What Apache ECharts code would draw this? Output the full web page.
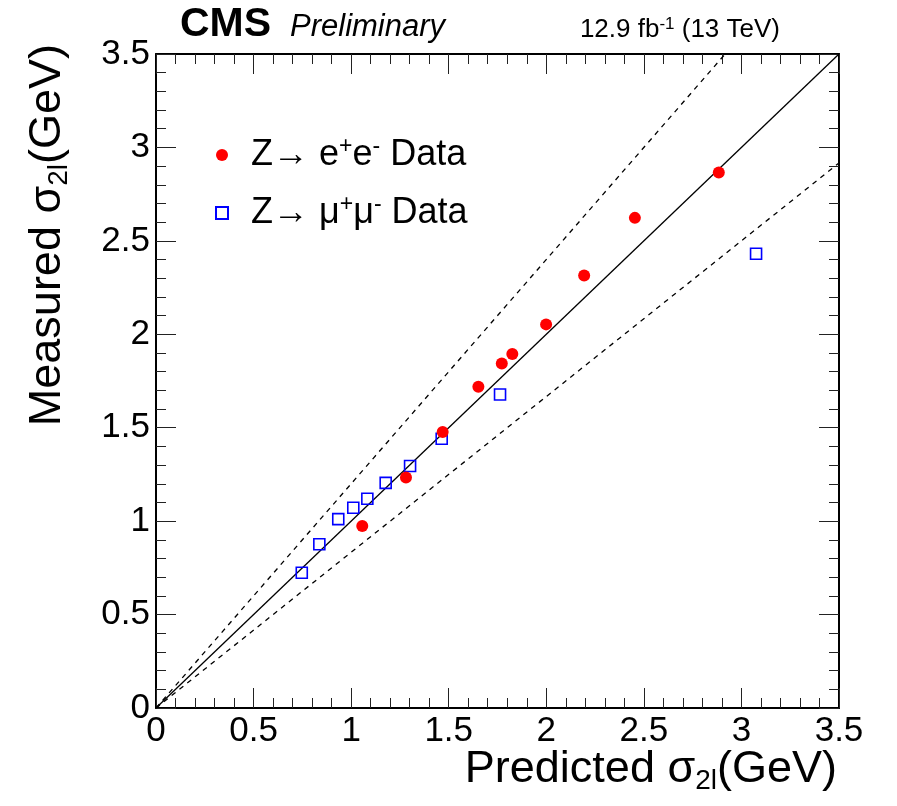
<!DOCTYPE html>
<html>
<head>
<meta charset="utf-8">
<script src="https://cdn.jsdelivr.net/npm/echarts@6/dist/echarts.min.js"></script>
<style>html,body{margin:0;padding:0;background:#fff}#c{width:897px;height:806px}</style>
</head>
<body>
<div id="c"></div>
<script>
// Z -> e+e- data (predicted, measured)
var eeX = [1.057, 1.281, 1.469, 1.652, 1.772, 1.826, 1.999, 2.194, 2.454, 2.884];
var eeY = [0.974, 1.234, 1.477, 1.719, 1.844, 1.894, 2.053, 2.315, 2.623, 2.866];
// Z -> mu+mu- data
var mmX = [0.747, 0.837, 0.934, 1.011, 1.083, 1.177, 1.302, 1.464, 1.763, 3.075];
var mmY = [0.724, 0.876, 1.011, 1.072, 1.120, 1.205, 1.295, 1.441, 1.678, 2.431];
// reference lines (endpoints)
var diagX = [0, 3.5], diagY = [0, 3.5];
var upperX = [0, 2.9167], upperY = [0, 3.5];
var lowerX = [0, 3.5], lowerY = [0, 2.9167];
var axisTicks = [0, 0.5, 1, 1.5, 2, 2.5, 3, 3.5];

function zip(a, b) { return a.map(function (v, i) { return [v, b[i]]; }); }

var FONT = "'Liberation Sans', Arial, Helvetica, sans-serif";
var chart = echarts.init(document.getElementById('c'), null, { renderer: 'canvas' });

function axisCommon(pos, showLabel) {
  return {
    type: 'value', position: pos, min: axisTicks[0], max: axisTicks[axisTicks.length - 1], interval: 0.5,
    axisLine: { show: true, onZero: false, lineStyle: { color: '#000', width: 2 } },
    axisTick: { show: true, inside: true, length: 20, lineStyle: { color: '#222', width: 1 } },
    minorTick: { show: true, splitNumber: 5, length: 10, lineStyle: { color: '#222', width: 1 } },
    splitLine: { show: false },
    axisLabel: { show: showLabel, color: '#000', fontFamily: FONT, fontSize: 35, margin: 6,
      formatter: function (v) { return String(v); } }
  };
}

var legendRich = {
  t: { fontFamily: FONT, fontSize: 36, color: '#000', lineHeight: 40, verticalAlign: 'middle' },
  sup: { fontFamily: FONT, fontSize: 23, color: '#000', lineHeight: 18, verticalAlign: 'top' }
};
var titleRich = {
  t: { font: "45px 'Liberation Sans', Arial, sans-serif", fill: '#000', lineHeight: 50, verticalAlign: 'middle' },
  sub: { font: "28px 'Liberation Sans', Arial, sans-serif", fill: '#000', lineHeight: 6, verticalAlign: 'bottom' }
};

var option = {
  backgroundColor: '#fff',
  animation: false,
  grid: { left: 156, right: 58, top: 54, bottom: 98, outerBoundsMode: 'none' },
  xAxis: [ axisCommon('bottom', true), axisCommon('top', false) ],
  yAxis: [ axisCommon('left', true), axisCommon('right', false) ],
  legend: {
    orient: 'vertical', left: 210, top: 130, itemWidth: 12, itemHeight: 12, itemGap: 20,
    data: [ { name: 'ee', icon: 'circle' }, { name: 'mm', icon: 'rect' } ],
    textStyle: { padding: [0, 0, 0, 18], rich: legendRich },
    formatter: function (n) {
      if (n === 'ee') return '{t|Z\u2192 e}{sup|+}{t|e}{sup|-}{t| Data}';
      return '{t|Z\u2192 \u03bc}{sup|+}{t|\u03bc}{sup|-}{t| Data}';
    }
  },
  series: [
    { type: 'line', name: 'diag', data: zip(diagX, diagY), showSymbol: false, silent: true, z: 1,
      lineStyle: { color: '#000', width: 1.3 } },
    { type: 'line', name: 'upper', data: zip(upperX, upperY), showSymbol: false, silent: true, z: 1,
      lineStyle: { color: '#000', width: 1.3, type: [5, 5] } },
    { type: 'line', name: 'lower', data: zip(lowerX, lowerY), showSymbol: false, silent: true, z: 1,
      lineStyle: { color: '#000', width: 1.3, type: [5, 5] } },
    { type: 'scatter', name: 'mm', data: zip(mmX, mmY), symbol: 'rect', symbolSize: 11, z: 3,
      itemStyle: { color: 'rgba(255,255,255,0)', borderColor: '#0000ff', borderWidth: 1.6, opacity: 1 } },
    { type: 'scatter', name: 'ee', data: zip(eeX, eeY), symbol: 'circle', symbolSize: 12, z: 4,
      itemStyle: { color: '#ff0000', opacity: 1 } }
  ],
  graphic: [
    { type: 'text', x: 180, y: 25, style: { text: 'CMS', font: "bold 41px 'Liberation Sans', Arial, sans-serif", fill: '#000', verticalAlign: 'middle' } },
    { type: 'text', x: 290, y: 27, style: { text: 'Preliminary', font: "italic 31px 'Liberation Sans', Arial, sans-serif", fill: '#000', verticalAlign: 'middle' } },
    { type: 'text', x: 780, y: 30, style: {
        text: '{t|12.9 fb}{sup|-1}{t| (13 TeV)}', align: 'right', verticalAlign: 'middle',
        rich: {
          t: { font: "26px 'Liberation Sans', Arial, sans-serif", fill: '#000', lineHeight: 28, verticalAlign: 'middle' },
          sup: { font: "17px 'Liberation Sans', Arial, sans-serif", fill: '#000', lineHeight: 12, verticalAlign: 'top' }
        } } },
    { type: 'text', x: 837, y: 770, style: {
        text: '{t|Predicted \u03c3}{sub|2l}{t|(GeV)}', align: 'right', verticalAlign: 'middle', rich: titleRich } },
    { type: 'text', x: 48, y: 44, rotation: Math.PI / 2, style: {
        text: '{t|Measured \u03c3}{sub|2l}{t|(GeV)}', align: 'right', verticalAlign: 'middle', rich: titleRich } }
  ]
};
chart.setOption(option);
</script>
</body>
</html>
